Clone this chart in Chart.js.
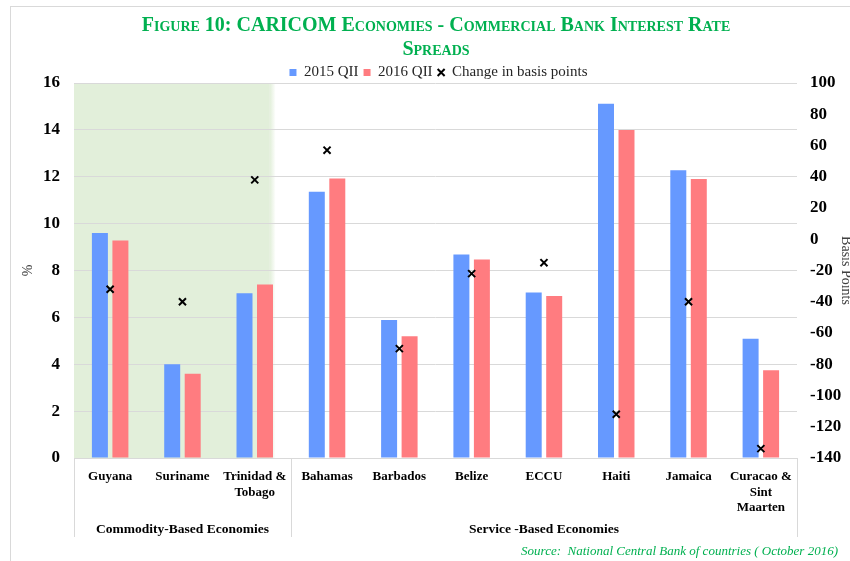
<!DOCTYPE html>
<html>
<head>
<meta charset="utf-8">
<script src="https://cdn.jsdelivr.net/npm/chart.js@4"></script>
<style>
  body { margin: 0; background: #fff; }
  #wrap { position: relative; width: 850px; height: 561px; overflow: hidden; }
  #frame { position: absolute; left: 10px; top: 6px; width: 850px; height: 561px; border: 1px solid #d9d9d9; }
  #chart { position: absolute; left: 0; top: 0; }
  #title {
    position: absolute; left: 0; top: 13px; width: 872px; text-align: center;
    font: bold 20px/23.5px 'Liberation Serif', serif; font-variant: small-caps; color: #00b050;
  }
  #source {
    position: absolute; right: 12px; top: 543px;
    font: italic 13px/16px 'Liberation Serif', serif; color: #00b050;
  }
</style>
</head>
<body>
<div id="wrap">
  <div id="frame"></div>
  <canvas id="chart" width="850" height="561"></canvas>
  <div id="title">Figure 10: CARICOM Economies - Commercial Bank Interest Rate<br>Spreads</div>
  <div id="source">Source:&nbsp; National Central Bank of countries ( October 2016)</div>
</div>
<script>
const categories = ['Guyana', 'Suriname', ['Trinidad &', 'Tobago'], 'Bahamas', 'Barbados', 'Belize', 'ECCU', 'Haiti', 'Jamaica', ['Curacao &', 'Sint', 'Maarten']];
const spread2015 = [9.6, 4.0, 7.03, 11.36, 5.89, 8.68, 7.06, 15.11, 12.28, 5.09];
const spread2016 = [9.28, 3.6, 7.4, 11.93, 5.19, 8.47, 6.91, 13.99, 11.9, 3.74];
const bpChange = [-32, -40, 38, 57, -70, -22, -15, -112, -40, -134];
const groupNames = ['Commodity-Based Economies', 'Service -Based Economies'];
const groupSizes = [3, 7];

const serif = "'Liberation Serif', serif";
const gridColor = '#d9d9d9';

// green band behind the commodity economies, group labels and separators
const shadePlugin = {
  id: 'shade',
  beforeDraw(chart) {
    const { ctx, chartArea, scales } = chart;
    const x0 = chartArea.left;
    const x1 = scales.x.getPixelForValue(groupSizes[0] - 0.75);
    const grad = ctx.createLinearGradient(x1 - 3, 0, x1 + 3, 0);
    grad.addColorStop(0, '#e2efda');
    grad.addColorStop(1, 'rgba(226,239,218,0)');
    ctx.save();
    ctx.fillStyle = '#e2efda';
    ctx.fillRect(x0, chartArea.top, x1 - 3 - x0, chartArea.bottom - chartArea.top);
    ctx.fillStyle = grad;
    ctx.fillRect(x1 - 3, chartArea.top, 6, chartArea.bottom - chartArea.top);
    ctx.restore();
  },
  afterLayout(chart) {
    chart.legend.top += 7;
    chart.legend.bottom += 7;
  },
  afterDraw(chart) {
    const { ctx, chartArea, scales } = chart;
    const y0 = chartArea.bottom;
    const y1 = y0 + 79;
    ctx.save();
    ctx.strokeStyle = gridColor;
    ctx.lineWidth = 1;
    let start = 0;
    const edges = [-0.5];
    groupSizes.forEach((n) => { start += n; edges.push(start - 0.5); });
    edges.forEach((e) => {
      const px = Math.round(scales.x.getPixelForValue(e)) + 0.5;
      ctx.beginPath();
      ctx.moveTo(px, y0);
      ctx.lineTo(px, y1);
      ctx.stroke();
    });
    ctx.fillStyle = '#000';
    ctx.font = 'bold 13.5px ' + serif;
    ctx.textAlign = 'center';
    ctx.textBaseline = 'middle';
    groupNames.forEach((name, i) => {
      const a = scales.x.getPixelForValue(edges[i]);
      const b = scales.x.getPixelForValue(edges[i + 1]);
      ctx.fillText(name, (a + b) / 2, y0 + 72);
    });
    ctx.restore();
  },
};

new Chart(document.getElementById('chart'), {
  type: 'bar',
  data: {
    labels: categories,
    datasets: [
      {
        type: 'line',
        label: 'Change in basis points',
        data: bpChange,
        yAxisID: 'y1',
        showLine: false,
        pointStyle: 'crossRot',
        pointRadius: 5,
        pointBorderWidth: 2,
        borderColor: '#000',
        backgroundColor: '#000',
        borderWidth: 2,
        order: 0,
      },
      {
        label: '2015 QII',
        data: spread2015,
        backgroundColor: '#6699ff',
        pointStyle: 'rect',
        categoryPercentage: 0.567,
        barPercentage: 0.78,
        order: 1,
      },
      {
        label: '2016 QII',
        data: spread2016,
        backgroundColor: '#ff7c80',
        pointStyle: 'rect',
        categoryPercentage: 0.567,
        barPercentage: 0.78,
        order: 1,
      },
    ],
  },
  options: {
    responsive: false,
    animation: false,
    layout: { padding: { top: 53, left: 27, right: 0, bottom: 0 } },
    plugins: {
      legend: {
        position: 'top',
        labels: {
          usePointStyle: true,
          boxWidth: 7,
          boxHeight: 7,
          padding: 5,
          color: '#262626',
          font: { family: serif, size: 15 },
          sort: (a, b) => (a.datasetIndex === 0) - (b.datasetIndex === 0),
        },
      },
      tooltip: { enabled: false },
    },
    scales: {
      x: {
        grid: { display: false },
        border: { color: gridColor },
        ticks: {
          color: '#000',
          font: { family: serif, size: 13, weight: 'bold', lineHeight: 1.2 },
          padding: 3,
          maxRotation: 0,
          autoSkip: false,
        },
        afterFit: (scale) => { scale.height = 103; },
      },
      y: {
        min: 0,
        max: 16,
        ticks: { stepSize: 2, color: '#000', padding: 14, font: { family: serif, size: 17, weight: 'bold' } },
        grid: { color: gridColor, drawTicks: false },
        border: { display: false },
        title: { display: true, text: '%', color: '#404040', font: { family: serif, size: 14 }, padding: { top: -7, bottom: 0 } },
        afterFit: (scale) => { scale.width = 47; },
      },
      y1: {
        position: 'right',
        min: -140,
        max: 100,
        ticks: { stepSize: 20, color: '#000', padding: 13, font: { family: serif, size: 17, weight: 'bold' } },
        grid: { drawOnChartArea: false, drawTicks: false },
        border: { display: false },
        title: { display: true, text: 'Basis Points', color: '#404040', font: { family: serif, size: 14 }, padding: { top: -4, bottom: 0 } },
        afterFit: (scale) => { scale.width = 53; },
      },
    },
  },
  plugins: [shadePlugin],
});
</script>
</body>
</html>
